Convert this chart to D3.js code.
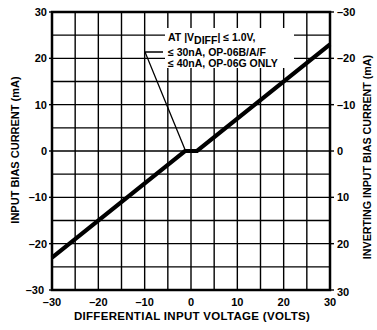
<!DOCTYPE html>
<html lang="en">
<head>
<meta charset="utf-8">
<script src="https://cdnjs.cloudflare.com/ajax/libs/d3/7.8.5/d3.min.js"></script>
<style>
  body { margin: 0; background: #fff; }
  text { font-family: "Liberation Sans", Arial, sans-serif; font-weight: bold; fill: #000; }
</style>
</head>
<body>
<svg id="chart" width="377" height="330"></svg>
<script>
// curve: differential input voltage (V) vs input bias current (mA)
const voltage = [-30, -1.3, 1.3, 30];
const current = [-23, 0, 0, 23];

const xTickLabels = [-30, -20, -10, 0, 10, 20, 30];
const yTickLabels = [30, 20, 10, 0, -10, -20, -30];
const rightTickLabels = [-30, -20, -10, 0, 10, 20, 30];

const noteLines = ["< 30nA, OP-06B/A/F", "< 40nA, OP-06G ONLY"];

const svg = d3.select("#chart");
const plotL = 52, plotR = 330, plotT = 12, plotB = 290;

const x = d3.scaleLinear().domain([-30, 30]).range([plotL, plotR]);
const y = d3.scaleLinear().domain([-30, 30]).range([plotB, plotT]);
const yR = d3.scaleLinear().domain([30, -30]).range([plotB, plotT]); // inverted right axis

const fmt = d => d < 0 ? "\u2013" + Math.abs(d) : String(d);

// grid every 5 units
const grid = svg.append("g").attr("stroke", "#000").attr("stroke-width", 1.4);
grid.selectAll(".gx").data(x.ticks(12)).join("line")
  .attr("x1", d => x(d)).attr("x2", d => x(d))
  .attr("y1", plotT).attr("y2", plotB);
grid.selectAll(".gy").data(y.ticks(12)).join("line")
  .attr("y1", d => y(d)).attr("y2", d => y(d))
  .attr("x1", plotL).attr("x2", plotR);

// small outer ticks at labelled values
grid.selectAll(".tl").data(yTickLabels).join("line")
  .attr("y1", d => y(d)).attr("y2", d => y(d)).attr("x1", plotL - 3).attr("x2", plotL);
grid.selectAll(".tr").data(rightTickLabels).join("line")
  .attr("y1", d => yR(d)).attr("y2", d => yR(d)).attr("x1", plotR).attr("x2", plotR + 4);

// frame
svg.append("rect")
  .attr("x", plotL).attr("y", plotT)
  .attr("width", plotR - plotL).attr("height", plotB - plotT)
  .attr("fill", "none").attr("stroke", "#000").attr("stroke-width", 2.5);

// annotation: box over grid, leader line
svg.append("rect").attr("x", 165).attr("y", 28).attr("width", 129).attr("height", 40).attr("fill", "#fff");
svg.append("path")
  .attr("d", "M163,52 L145,52 L186,152")
  .attr("fill", "none").attr("stroke", "#000").attr("stroke-width", 1.3);

const note = svg.append("text").attr("x", 168).attr("y", 41).style("font-size", "10.5px");
note.append("tspan").text("AT |V");
note.append("tspan").attr("dy", 3).text("DIFF");
note.append("tspan").attr("dy", -3).text("| \u2264 1.0V,");
svg.selectAll(".note").data(noteLines).join("text")
  .attr("x", 168).attr("y", (d, i) => 56 + i * 11)
  .style("font-size", "10.5px")
  .text(d => d.replace("<", "\u2264"));

// curve
const line = d3.line().x((d, i) => x(voltage[i])).y(d => y(d));
svg.append("path").datum(current)
  .attr("d", line)
  .attr("fill", "none").attr("stroke", "#000").attr("stroke-width", 4.2);

// tick labels
svg.selectAll(".xl").data(xTickLabels).join("text")
  .attr("x", d => x(d)).attr("y", 306)
  .attr("text-anchor", "middle").style("font-size", "11px")
  .text(fmt);
svg.selectAll(".yl").data(yTickLabels).join("text")
  .attr("x", d => d === -30 ? 44 : 47).attr("y", d => y(d) + 4)
  .attr("text-anchor", "end").style("font-size", "11px")
  .text(fmt);
svg.selectAll(".rl").data(rightTickLabels).join("text")
  .attr("x", 337).attr("y", d => yR(d) + 4 + (d === 30 ? 2 : 0))
  .attr("text-anchor", "start").style("font-size", "11px")
  .text(fmt);

// axis titles
svg.append("text").attr("x", 192).attr("y", 320)
  .attr("text-anchor", "middle").style("font-size", "11.5px").style("letter-spacing", "0.3px")
  .text("DIFFERENTIAL INPUT VOLTAGE (VOLTS)");
svg.append("text").attr("transform", "translate(19,150) rotate(-90)")
  .attr("text-anchor", "middle").style("font-size", "11px")
  .text("INPUT BIAS CURRENT (mA)");
svg.append("text").attr("transform", "translate(371,157) rotate(-90)")
  .attr("text-anchor", "middle").style("font-size", "10.7px")
  .text("INVERTING INPUT BIAS CURRENT (mA)");
</script>
</body>
</html>
